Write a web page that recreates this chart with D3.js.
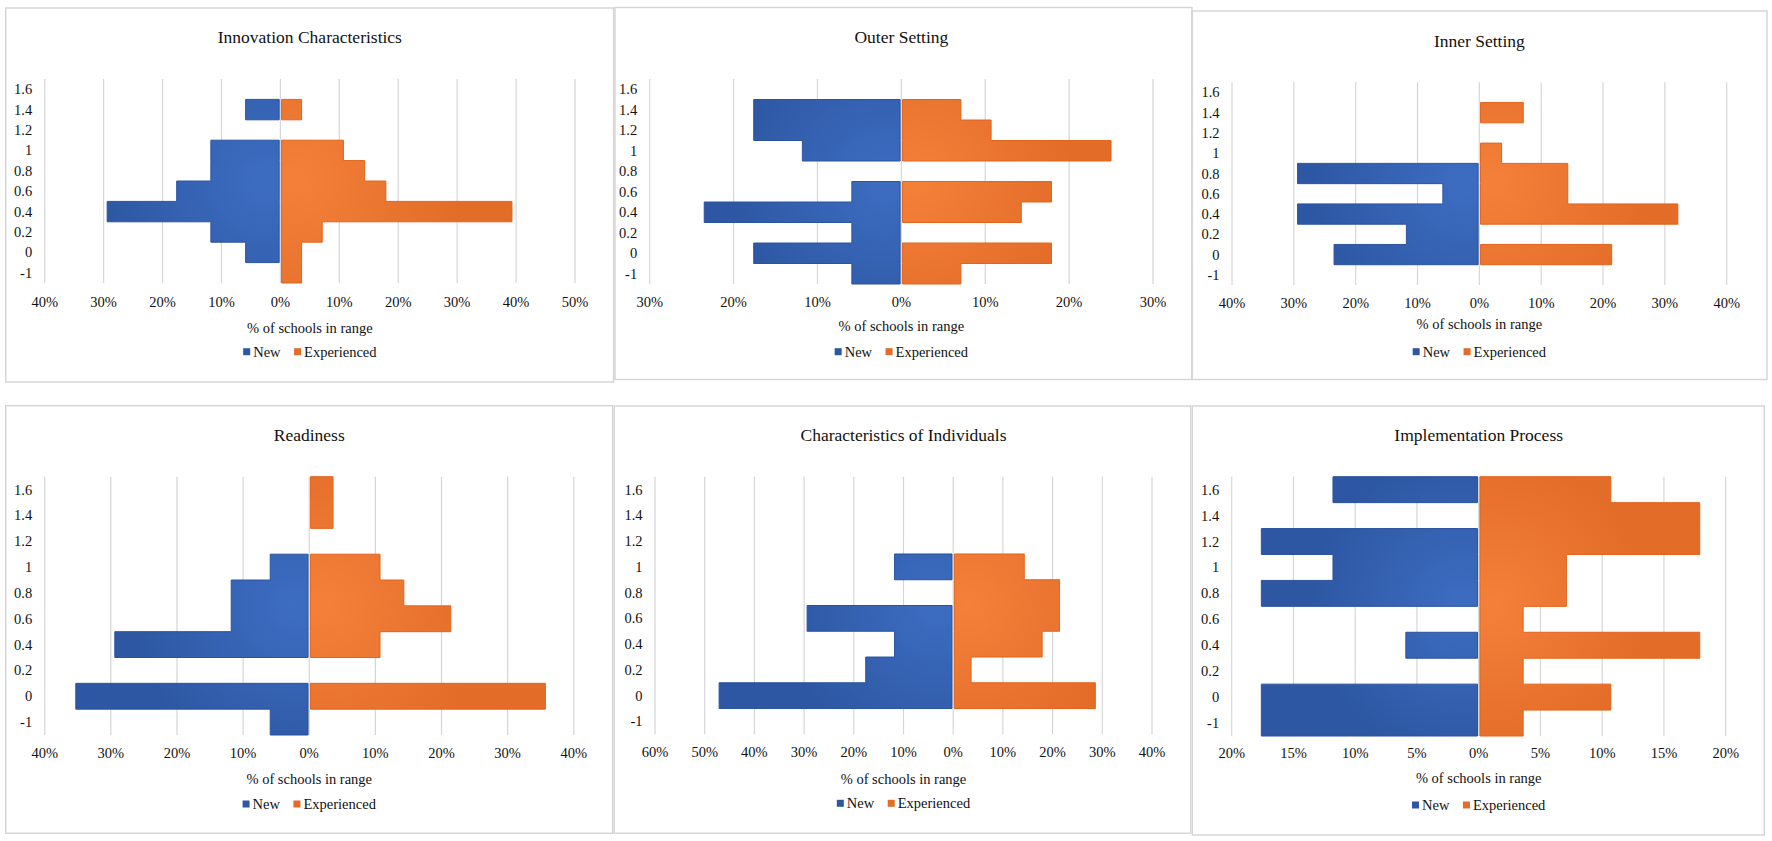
<!DOCTYPE html>
<html>
<head>
<meta charset="utf-8">
<script src="https://cdn.jsdelivr.net/npm/d3@7"></script>
<style>
body { margin: 0; background: #fff; }
svg text { font-family: "Liberation Serif", "Times New Roman", Times, serif; fill: #111; }
</style>
</head>
<body>
<div id="chart"></div>
<script>
// score ranges, bottom to top
var categories = ["-1", "0", "0.2", "0.4", "0.6", "0.8", "1", "1.2", "1.4", "1.6"];
var seriesNames = ["New", "Experienced"];
var titles = ["Innovation Characteristics", "Outer Setting", "Inner Setting",
	"Readiness", "Characteristics of Individuals", "Implementation Process"];
var axisTitle = "% of schools in range";

// % of schools per range, same order as categories
var innovationNew = [0, 5.9, 11.8, 29.4, 17.6, 11.8, 11.8, 0, 5.9, 0];
var innovationExp = [3.6, 3.6, 7.1, 39.3, 17.9, 14.3, 10.7, 0, 3.6, 0];
var outerNew = [5.9, 17.6, 5.9, 23.5, 5.9, 0, 11.8, 17.6, 17.6, 0];
var outerExp = [7.1, 17.9, 0, 14.3, 17.9, 0, 25.0, 10.7, 7.1, 0];
var innerNew = [0, 23.5, 11.8, 29.4, 5.9, 29.4, 0, 0, 0, 0];
var innerExp = [0, 21.4, 0, 32.1, 14.3, 14.3, 3.6, 0, 7.1, 0];
var readinessNew = [5.9, 35.3, 0, 29.4, 11.8, 11.8, 5.9, 0, 0, 0];
var readinessExp = [0, 35.7, 0, 10.7, 21.4, 14.3, 10.7, 0, 3.6, 3.6];
var individualsNew = [0, 47.1, 17.6, 11.8, 29.4, 0, 11.8, 0, 0, 0];
var individualsExp = [0, 28.6, 3.6, 17.9, 21.4, 21.4, 14.3, 0, 0, 0];
var processNew = [17.6, 17.6, 0, 5.9, 0, 17.6, 11.8, 17.6, 0, 11.8];
var processExp = [3.6, 10.7, 3.6, 17.9, 3.6, 7.1, 7.1, 17.9, 17.9, 10.7];

// x axis range and tick step for each chart
var xDomains = [[-40, 50], [-30, 30], [-40, 40], [-40, 40], [-60, 40], [-20, 20]];
var xSteps = [10, 10, 10, 10, 10, 5];

var newValues = [innovationNew, outerNew, innerNew, readinessNew, individualsNew, processNew];
var expValues = [innovationExp, outerExp, innerExp, readinessExp, individualsExp, processExp];

// layout of the six boxes (pixels)
var panels = [
	{box: [5.7, 8, 613.6, 382], px: [44.7, 575], py: [79, 283], titleY: 36.7, tickY: 301.7, axisY: 327.5, legendY: 351.7},
	{box: [615, 7.5, 1192, 379.5], px: [649.7, 1153], py: [79, 284], titleY: 36.7, tickY: 301.7, axisY: 325.5, legendY: 351.7},
	{box: [1192, 11, 1767, 379.5], px: [1232, 1726.7], py: [82.3, 285], titleY: 41, tickY: 302.7, axisY: 323.5, legendY: 351.7},
	{box: [5.7, 405.7, 612.7, 833.3], px: [44.7, 573.8], py: [476.7, 735], titleY: 435, tickY: 753.3, axisY: 779.3, legendY: 804},
	{box: [614.3, 406, 1190.7, 833.3], px: [655, 1152], py: [476.7, 734.3], titleY: 435, tickY: 752.3, axisY: 779, legendY: 803.3},
	{box: [1192.3, 406, 1764.3, 835], px: [1231.7, 1725.7], py: [476.7, 736], titleY: 435, tickY: 753.3, axisY: 777.7, legendY: 805}
];

var colors = {
	New: {light: "#3d6dc2", dark: "#2d57a2", stroke: "#2c53a0"},
	Experienced: {light: "#f4803a", dark: "#e26c28", stroke: "#e3641c"}
};

var svg = d3.select("#chart").append("svg")
	.attr("width", 1772)
	.attr("height", 841)
	.attr("font-family", "'Liberation Serif', 'Times New Roman', Times, serif");

svg.append("rect")
	.attr("width", 1772)
	.attr("height", 841)
	.attr("fill", "#fff");

var defs = svg.append("defs");

var drawPanel = function(p, i) {
	var g = svg.append("g");

	g.append("rect")
		.attr("x", p.box[0])
		.attr("y", p.box[1])
		.attr("width", p.box[2] - p.box[0])
		.attr("height", p.box[3] - p.box[1])
		.attr("fill", "none")
		.attr("stroke", "#d4d4d4")
		.attr("stroke-width", 1.4);

	var x = d3.scaleLinear().domain(xDomains[i]).range(p.px);
	var y = d3.scaleBand().domain(categories.slice().reverse()).range(p.py).padding(0);
	var cx = (p.px[0] + p.px[1]) / 2;

	g.append("text")
		.attr("x", cx)
		.attr("y", p.titleY)
		.attr("text-anchor", "middle")
		.attr("dominant-baseline", "central")
		.attr("font-size", "17.5px")
		.text(titles[i]);

	var ticks = d3.range(xDomains[i][0], xDomains[i][1] + 0.001, xSteps[i]);

	g.selectAll(".grid")
		.data(ticks)
		.enter().append("line")
		.attr("x1", function(d) { return x(d); })
		.attr("x2", function(d) { return x(d); })
		.attr("y1", p.py[0])
		.attr("y2", p.py[1])
		.attr("stroke", "#d6d6d6")
		.attr("stroke-width", 1.2);

	g.selectAll(".tick")
		.data(ticks)
		.enter().append("text")
		.attr("x", function(d) { return x(d); })
		.attr("y", p.tickY)
		.attr("text-anchor", "middle")
		.attr("dominant-baseline", "central")
		.attr("font-size", "14.5px")
		.text(function(d) { return Math.abs(d) + "%"; });

	g.selectAll(".cat")
		.data(categories)
		.enter().append("text")
		.attr("x", p.px[0] - 12.5)
		.attr("y", function(d) { return y(d) + y.bandwidth() / 2; })
		.attr("text-anchor", "end")
		.attr("dominant-baseline", "central")
		.attr("font-size", "14.5px")
		.text(function(d) { return d; });

	// one stepped outline per series, broken where the range is empty
	[["New", newValues[i], -1], ["Experienced", expValues[i], 1]].forEach(function(s) {
		var name = s[0], vals = s[1], sign = s[2];
		var c = colors[name];
		var gid = "grad" + i + name;
		var zero = x(0) + sign * 1.2;

		var grad = defs.append("radialGradient")
			.attr("id", gid)
			.attr("gradientUnits", "userSpaceOnUse")
			.attr("cx", x(0) + sign * 15)
			.attr("cy", (p.py[0] + p.py[1]) / 2)
			.attr("r", (p.px[1] - p.px[0]) / 2.4);
		grad.append("stop").attr("offset", "0%").attr("stop-color", c.light);
		grad.append("stop").attr("offset", "75%").attr("stop-color", c.dark);
		grad.append("stop").attr("offset", "100%").attr("stop-color", c.dark);

		var pts = [];
		categories.slice().reverse().forEach(function(cat) {
			var v = vals[categories.indexOf(cat)];
			pts.push({y: y(cat), v: v});
			pts.push({y: y(cat) + y.bandwidth(), v: v});
		});

		var area = d3.area()
			.defined(function(d) { return d.v > 0; })
			.y(function(d) { return d.y; })
			.x0(zero)
			.x1(function(d) { return x(sign * d.v); });

		g.append("path")
			.attr("d", area(pts))
			.attr("fill", "url(#" + gid + ")")
			.attr("stroke", c.stroke)
			.attr("stroke-width", 1)
			.attr("stroke-linejoin", "miter");
	});

	g.append("text")
		.attr("x", cx)
		.attr("y", p.axisY)
		.attr("text-anchor", "middle")
		.attr("dominant-baseline", "central")
		.attr("font-size", "14.5px")
		.text(axisTitle);

	// legend
	var leg = g.append("g");
	var pos = 0;
	seriesNames.forEach(function(name, k) {
		if (k > 0) pos += 13.5;
		leg.append("rect")
			.attr("x", pos)
			.attr("y", -3.5)
			.attr("width", 7)
			.attr("height", 7)
			.attr("fill", colors[name].dark);
		var t = leg.append("text")
			.attr("x", pos + 10)
			.attr("y", 0)
			.attr("dominant-baseline", "central")
			.attr("font-size", "14.5px")
			.text(name);
		pos += 10 + t.node().getComputedTextLength();
	});
	leg.attr("transform", "translate(" + (cx - pos / 2) + "," + p.legendY + ")");
};

panels.forEach(drawPanel);
</script>
</body>
</html>
